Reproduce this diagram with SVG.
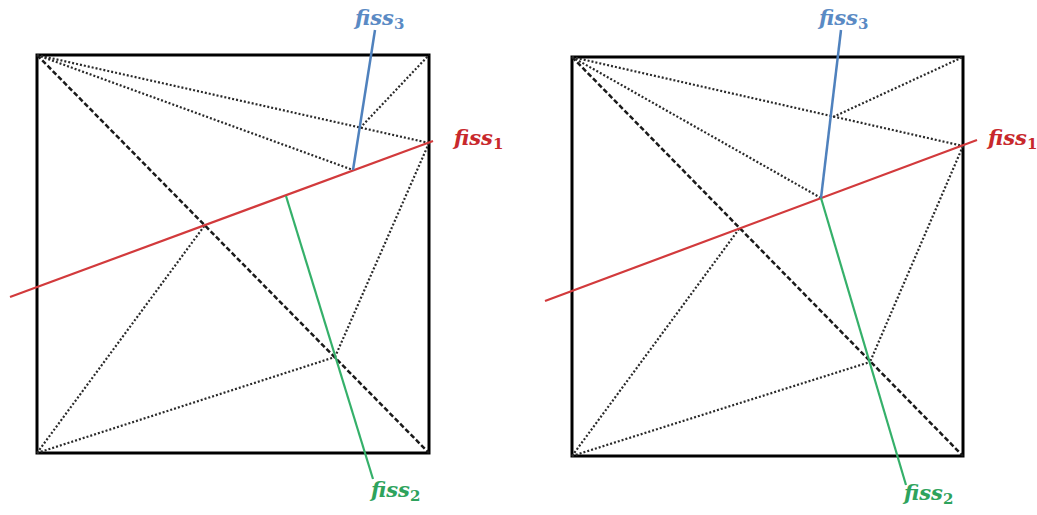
<svg xmlns="http://www.w3.org/2000/svg" width="1037" height="515" viewBox="0 0 1037 515">
<style>
.frame{fill:none;stroke:#000;stroke-width:3}
.dot{fill:none;stroke:#2a2a2a;stroke-width:2.2;stroke-dasharray:2 2}
.dash{fill:none;stroke:#1a1a1a;stroke-width:2.5;stroke-dasharray:5 2.5}
.red{stroke:#d23a3c;stroke-width:2.2;fill:none}
.blue{stroke:#4f81bd;stroke-width:2.5;fill:none}
.green{stroke:#35b06a;stroke-width:2.2;fill:none}
.lbl{font-family:"DejaVu Serif","Liberation Serif",serif;font-style:italic;font-weight:bold;font-size:21px}
.sub{font-style:normal;font-size:15px}
.lr{fill:#c8282c}.lb{fill:#5a8ac4}.lg{fill:#2ea35c}
</style>
<rect width="1037" height="515" fill="#fff"/>
<g id="left-square"><rect class="frame" x="37" y="55" width="392" height="398"/></g>
<g id="right-square"><rect class="frame" x="572" y="57" width="391" height="399"/></g>
<g id="connectors">
<line class="dash" x1="37" y1="55" x2="429" y2="453"/>
<line class="dot" x1="37" y1="55" x2="429" y2="143"/>
<line class="dot" x1="37" y1="55" x2="353" y2="170"/>
<line class="dot" x1="360" y1="128" x2="429" y2="55"/>
<line class="dot" x1="429" y1="143" x2="335" y2="357"/>
<line class="dot" x1="37" y1="453" x2="335" y2="357"/>
<line class="dot" x1="37" y1="453" x2="205" y2="225"/>
<line class="red" x1="10" y1="297" x2="433" y2="141"/>
<line class="blue" x1="353" y1="170" x2="375" y2="30"/>
<line class="green" x1="286" y1="196" x2="373" y2="479"/>
<line class="dash" x1="572" y1="57" x2="963" y2="456"/>
<line class="dot" x1="572" y1="57" x2="963" y2="146"/>
<line class="dot" x1="572" y1="57" x2="821" y2="198"/>
<line class="dot" x1="833" y1="117" x2="963" y2="57"/>
<line class="dot" x1="963" y1="146" x2="870" y2="362"/>
<line class="dot" x1="572" y1="456" x2="870" y2="362"/>
<line class="dot" x1="572" y1="456" x2="739" y2="229"/>
<line class="red" x1="545" y1="301" x2="977" y2="140"/>
<line class="blue" x1="821" y1="198" x2="841" y2="30"/>
<line class="green" x1="821" y1="198" x2="906" y2="485"/>
</g>
<g id="labels-left">
<text class="lbl lb" x="355" y="25">fiss<tspan class="sub" dy="4">3</tspan></text>
<text class="lbl lr" x="454" y="145">fiss<tspan class="sub" dy="4">1</tspan></text>
<text class="lbl lg" x="371" y="497">fiss<tspan class="sub" dy="4">2</tspan></text>
</g>
<g id="labels-right">
<text class="lbl lb" x="819" y="25">fiss<tspan class="sub" dy="4">3</tspan></text>
<text class="lbl lr" x="988" y="145">fiss<tspan class="sub" dy="4">1</tspan></text>
<text class="lbl lg" x="904" y="500">fiss<tspan class="sub" dy="4">2</tspan></text>
</g>
</svg>
